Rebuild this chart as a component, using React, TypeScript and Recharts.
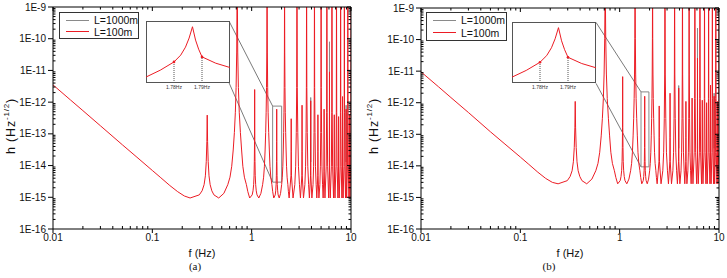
import React from 'react';
import { LineChart, Line, XAxis, YAxis, ReferenceArea, ReferenceLine, ReferenceDot } from 'recharts';

// frequency grid (Hz) shared by both panels
const freq = [
  // low-frequency slope
  0.01, 0.015, 0.02, 0.03, 0.05, 0.07, 0.1, 0.12, 0.15, 0.18, 0.21, 0.24,
  // n=1 / n=2
  0.297, 0.317, 0.332, 0.342, 0.349, 0.354, 0.357, 0.36, 0.365, 0.372, 0.382, 0.397, 0.417,
  0.466, 0.525, 0.575, 0.605, 0.63, 0.652, 0.67, 0.685, 0.697, 0.707, 0.715, 0.724, 0.735, 0.75, 0.77, 0.792, 0.815, 0.845, 0.885, 0.915, 0.955,
  // n=3 / n=4
  1.012, 1.032, 1.047, 1.057, 1.064, 1.069, 1.072, 1.075, 1.08, 1.087, 1.097, 1.112, 1.132,
  1.18, 1.239, 1.289, 1.319, 1.344, 1.366, 1.384, 1.399, 1.411, 1.421, 1.429, 1.438, 1.449, 1.464, 1.484, 1.506, 1.529, 1.559, 1.599, 1.629, 1.669,
  // n=5 / n=6
  1.727, 1.747, 1.762, 1.772, 1.779, 1.784, 1.787, 1.79, 1.795, 1.802, 1.812, 1.827, 1.847,
  1.895, 1.954, 2.004, 2.034, 2.059, 2.081, 2.099, 2.114, 2.126, 2.136, 2.144, 2.153, 2.164, 2.179, 2.199, 2.221, 2.244, 2.274, 2.314, 2.344, 2.384,
  // n=7..14
  2.486, 2.497, 2.501, 2.505, 2.516, 2.609, 2.718, 2.773, 2.813, 2.84, 2.858, 2.878, 2.913, 2.958, 3.028, 3.098,
  3.201, 3.212, 3.216, 3.22, 3.231, 3.324, 3.433, 3.488, 3.528, 3.555, 3.573, 3.593, 3.628, 3.673, 3.743, 3.813,
  3.915, 3.926, 3.93, 3.934, 3.945, 4.038, 4.148, 4.203, 4.243, 4.27, 4.288, 4.308, 4.343, 4.388, 4.458, 4.528,
  4.63, 4.641, 4.645, 4.649, 4.66, 4.753, 4.862, 4.917, 4.957, 4.984, 5.002, 5.022, 5.057, 5.102, 5.172, 5.242,
  // n=15..28
  5.35, 5.36, 5.37, 5.468, 5.632, 5.687, 5.717, 5.752, 5.817, 5.957,
  6.064, 6.074, 6.084, 6.182, 6.346, 6.401, 6.431, 6.466, 6.531, 6.671,
  6.779, 6.789, 6.799, 6.897, 7.061, 7.116, 7.146, 7.181, 7.246, 7.386,
  7.493, 7.503, 7.513, 7.611, 7.776, 7.831, 7.861, 7.896, 7.961, 8.101,
  8.208, 8.218, 8.228, 8.326, 8.49, 8.545, 8.575, 8.61, 8.675, 8.815,
  8.923, 8.933, 8.943, 9.041, 9.205, 9.26, 9.29, 9.325, 9.39, 9.53,
  9.637, 9.647, 9.657, 9.755, 9.919, 9.974, 10.004,
];

// panel (a), L=100m, h in Hz^-1/2
const h100a = [
  3.5e-12, 1.17e-12, 5.4e-13, 1.8e-13, 4.5e-14, 1.83e-14, 7.0e-15, 4.3e-15, 2.35e-15, 1.5e-15, 1.1e-15, 9.5e-16,
  1.19e-15, 1.6e-15, 2.5e-15, 4.75e-15, 1.33e-14, 5.7e-14, 3.9e-13, 5.7e-14, 1.33e-14, 4.75e-15, 2.5e-15, 1.6e-15, 1.19e-15,
  9.5e-16, 1.33e-15, 2.5e-15, 4.3e-15, 9.5e-15, 3.1e-14, 1.1e-13, 4.8e-13, 2.9e-12, 3.8e-11, 1e-8, 3.8e-11, 2.9e-12, 4.8e-13, 1.1e-13, 3.1e-14, 9.5e-15, 4.3e-15, 2.5e-15, 1.5e-15, 9.5e-16,
  1.19e-15, 1.6e-15, 2.5e-15, 4.75e-15, 1.33e-14, 5.7e-14, 2.5e-12, 5.7e-14, 1.33e-14, 4.75e-15, 2.5e-15, 1.6e-15, 1.19e-15,
  9.5e-16, 1.33e-15, 2.5e-15, 4.3e-15, 9.5e-15, 3.1e-14, 1.1e-13, 4.8e-13, 2.9e-12, 3.8e-11, 1e-8, 3.8e-11, 2.9e-12, 4.8e-13, 1.1e-13, 3.1e-14, 9.5e-15, 4.3e-15, 2.5e-15, 1.5e-15, 9.5e-16,
  1.19e-15, 1.6e-15, 2.5e-15, 4.75e-15, 1.33e-14, 5.7e-14, 6.0e-13, 5.7e-14, 1.33e-14, 4.75e-15, 2.5e-15, 1.6e-15, 1.19e-15,
  9.5e-16, 1.33e-15, 2.5e-15, 4.3e-15, 9.5e-15, 3.1e-14, 1.1e-13, 4.8e-13, 2.9e-12, 3.8e-11, 1e-8, 3.8e-11, 2.9e-12, 4.8e-13, 1.1e-13, 3.1e-14, 9.5e-15, 4.3e-15, 2.5e-15, 1.5e-15, 9.5e-16,
  4.75e-15, 2.85e-14, 3.0e-13, 2.85e-14, 4.75e-15, 9.5e-16, 2.5e-15, 9.5e-15, 1.1e-13, 2.9e-12, 1e-8, 2.9e-12, 1.1e-13, 9.5e-15, 2.5e-15, 9.5e-16,
  4.75e-15, 2.85e-14, 8.0e-13, 2.85e-14, 4.75e-15, 9.5e-16, 2.5e-15, 9.5e-15, 1.1e-13, 2.9e-12, 1e-8, 2.9e-12, 1.1e-13, 9.5e-15, 2.5e-15, 9.5e-16,
  4.75e-15, 2.85e-14, 1.1e-12, 2.85e-14, 4.75e-15, 9.5e-16, 2.5e-15, 9.5e-15, 1.1e-13, 2.9e-12, 1e-8, 2.9e-12, 1.1e-13, 9.5e-15, 2.5e-15, 9.5e-16,
  4.75e-15, 2.85e-14, 4.0e-13, 2.85e-14, 4.75e-15, 9.5e-16, 2.5e-15, 9.5e-15, 1.1e-13, 2.9e-12, 1e-8, 2.9e-12, 1.1e-13, 9.5e-15, 2.5e-15, 9.5e-16,
  6.7e-15, 6.0e-13, 6.7e-15, 9.5e-16, 9.5e-15, 4.8e-13, 1e-8, 4.8e-13, 9.5e-15, 9.5e-16,
  6.7e-15, 9.0e-12, 6.7e-15, 9.5e-16, 9.5e-15, 4.8e-13, 1e-8, 4.8e-13, 9.5e-15, 9.5e-16,
  6.7e-15, 4.0e-13, 6.7e-15, 9.5e-16, 9.5e-15, 4.8e-13, 1e-8, 4.8e-13, 9.5e-15, 9.5e-16,
  6.7e-15, 3.5e-13, 6.7e-15, 9.5e-16, 9.5e-15, 4.8e-13, 1e-8, 4.8e-13, 9.5e-15, 9.5e-16,
  6.7e-15, 1.5e-12, 6.7e-15, 9.5e-16, 9.5e-15, 4.8e-13, 1e-8, 4.8e-13, 9.5e-15, 9.5e-16,
  6.7e-15, 6.0e-13, 6.7e-15, 9.5e-16, 9.5e-15, 4.8e-13, 1e-8, 4.8e-13, 9.5e-15, 9.5e-16,
  6.7e-15, 4.0e-13, 6.7e-15, 9.5e-16, 9.5e-15, 4.8e-13, 1e-8,
];

// panel (b), L=100m
const h100b = [
  9.5e-12, 3.2e-12, 1.46e-12, 4.9e-13, 1.2e-13, 4.9e-14, 1.9e-14, 1.16e-14, 6.3e-15, 4.0e-15, 3.0e-15, 2.7e-15,
  3.4e-15, 4.6e-15, 7.0e-15, 1.35e-14, 3.8e-14, 1.6e-13, 1.1e-12, 1.6e-13, 3.8e-14, 1.35e-14, 7.0e-15, 4.6e-15, 3.4e-15,
  2.7e-15, 3.8e-15, 7.0e-15, 1.2e-14, 2.7e-14, 8.9e-14, 3.2e-13, 1.35e-12, 8.1e-12, 1.1e-10, 1e-8, 1.1e-10, 8.1e-12, 1.35e-12, 3.2e-13, 8.9e-14, 2.7e-14, 1.2e-14, 7.0e-15, 4.3e-15, 2.7e-15,
  3.4e-15, 4.6e-15, 7.0e-15, 1.35e-14, 3.8e-14, 1.6e-13, 6.7e-12, 1.6e-13, 3.8e-14, 1.35e-14, 7.0e-15, 4.6e-15, 3.4e-15,
  2.7e-15, 3.8e-15, 7.0e-15, 1.2e-14, 2.7e-14, 8.9e-14, 3.2e-13, 1.35e-12, 8.1e-12, 1.1e-10, 1e-8, 1.1e-10, 8.1e-12, 1.35e-12, 3.2e-13, 8.9e-14, 2.7e-14, 1.2e-14, 7.0e-15, 4.3e-15, 2.7e-15,
  3.4e-15, 4.6e-15, 7.0e-15, 1.35e-14, 3.8e-14, 1.6e-13, 1.6e-12, 1.6e-13, 3.8e-14, 1.35e-14, 7.0e-15, 4.6e-15, 3.4e-15,
  2.7e-15, 3.8e-15, 7.0e-15, 1.2e-14, 2.7e-14, 8.9e-14, 3.2e-13, 1.35e-12, 8.1e-12, 1.1e-10, 1e-8, 1.1e-10, 8.1e-12, 1.35e-12, 3.2e-13, 8.9e-14, 2.7e-14, 1.2e-14, 7.0e-15, 4.3e-15, 2.7e-15,
  1.35e-14, 8.1e-14, 7.9e-13, 8.1e-14, 1.35e-14, 2.7e-15, 7.0e-15, 2.7e-14, 3.2e-13, 8.1e-12, 1e-8, 8.1e-12, 3.2e-13, 2.7e-14, 7.0e-15, 2.7e-15,
  1.35e-14, 8.1e-14, 2.0e-12, 8.1e-14, 1.35e-14, 2.7e-15, 7.0e-15, 2.7e-14, 3.2e-13, 8.1e-12, 1e-8, 8.1e-12, 3.2e-13, 2.7e-14, 7.0e-15, 2.7e-15,
  1.35e-14, 8.1e-14, 2.9e-12, 8.1e-14, 1.35e-14, 2.7e-15, 7.0e-15, 2.7e-14, 3.2e-13, 8.1e-12, 1e-8, 8.1e-12, 3.2e-13, 2.7e-14, 7.0e-15, 2.7e-15,
  1.35e-14, 8.1e-14, 1.1e-12, 8.1e-14, 1.35e-14, 2.7e-15, 7.0e-15, 2.7e-14, 3.2e-13, 8.1e-12, 1e-8, 8.1e-12, 3.2e-13, 2.7e-14, 7.0e-15, 2.7e-15,
  1.9e-14, 1.4e-12, 1.9e-14, 2.7e-15, 2.7e-14, 1.35e-12, 1e-8, 1.35e-12, 2.7e-14, 2.7e-15,
  1.9e-14, 2.6e-11, 1.9e-14, 2.7e-15, 2.7e-14, 1.35e-12, 1e-8, 1.35e-12, 2.7e-14, 2.7e-15,
  1.9e-14, 1.2e-12, 1.9e-14, 2.7e-15, 2.7e-14, 1.35e-12, 1e-8, 1.35e-12, 2.7e-14, 2.7e-15,
  1.9e-14, 1.0e-12, 1.9e-14, 2.7e-15, 2.7e-14, 1.35e-12, 1e-8, 1.35e-12, 2.7e-14, 2.7e-15,
  1.9e-14, 3.6e-12, 1.9e-14, 2.7e-15, 2.7e-14, 1.35e-12, 1e-8, 1.35e-12, 2.7e-14, 2.7e-15,
  1.9e-14, 1.6e-12, 1.9e-14, 2.7e-15, 2.7e-14, 1.35e-12, 1e-8, 1.35e-12, 2.7e-14, 2.7e-15,
  1.9e-14, 1.1e-12, 1.9e-14, 2.7e-15, 2.7e-14, 1.35e-12, 1e-8,
];

// L=1000m only shows where it pokes above the L=100m curve
const grayFreq = [3.922, 3.93, 3.938, 3.94, 6.066, 6.074, 6.082, 6.09, 8.925, 8.933, 8.941];
const h1000a = [1.3e-14, 1.4e-12, 1.3e-14, null, 1.3e-14, 8e-11, 1.3e-14, null, 1.3e-14, 8e-13, 1.3e-14];
const h1000b = [3.6e-14, 3.5e-12, 3.6e-14, null, 3.6e-14, 2.3e-10, 3.6e-14, null, 3.6e-14, 2e-12, 3.6e-14];

// inset: zoom on the 1.787 Hz peak
const insetFreq = [1.77, 1.7751, 1.78, 1.7824, 1.7841, 1.7854, 1.7866, 1.7877, 1.7888, 1.79, 1.7949, 1.8];
const insetH = [5.1e-15, 9.4e-15, 1.96e-14, 3.6e-14, 7.3e-14, 1.64e-13, 4.5e-13, 1.37e-13, 6.1e-14, 3.07e-14, 1.75e-14, 1.19e-14];
const insetMarks = [1.78, 1.79];
const insetMarkH = [1.96e-14, 3.07e-14];

const X_TICKS = [0.01, 0.1, 1, 10];
const X_MINOR = [0.02, 0.03, 0.04, 0.05, 0.06, 0.07, 0.08, 0.09, 0.2, 0.3, 0.4, 0.5, 0.6, 0.7, 0.8, 0.9, 2, 3, 4, 5, 6, 7, 8, 9];
const Y_TICKS = [1e-16, 1e-15, 1e-14, 1e-13, 1e-12, 1e-11, 1e-10, 1e-9];
const Y_MINOR = Y_TICKS.slice(0, -1).flatMap((d) => [2, 3, 4, 5, 6, 7, 8, 9].map((k) => k * d));
const INSET_MINOR = [1.772, 1.774, 1.776, 1.778, 1.78, 1.782, 1.784, 1.786, 1.788, 1.79, 1.792, 1.794, 1.796, 1.798];

const FONT = '"Liberation Sans", Arial, sans-serif';
const RED = '#ec1c24';
const GRAY = '#8a8a8a';

const fmtY = (v: number) => '1E' + Math.round(Math.log10(v));
const tickStyle = { fontSize: 10, fill: '#111', fontFamily: FONT };

const insetRows = insetFreq.map((f, i) => ({ f, h: insetH[i] }));

// tick renderers: major ticks point out, minor ones point in
function BottomTick({ x, y, payload }: any) {
  const ay = y - 5;
  const v = payload.value;
  if (X_TICKS.includes(v)) {
    return (
      <g>
        <line x1={x} x2={x} y1={ay} y2={ay + 4} stroke="#000" />
        <text x={x} y={y} dy="0.71em" textAnchor="middle" {...tickStyle}>{String(v)}</text>
      </g>
    );
  }
  return <line x1={x} x2={x} y1={ay} y2={ay - 3} stroke="#000" />;
}

function LeftTick({ x, y, payload }: any) {
  const ax = x + 7;
  const v = payload.value;
  if (Y_TICKS.includes(v)) {
    return (
      <g>
        <line x1={ax - 5} x2={ax} y1={y} y2={y} stroke="#000" />
        <text x={x} y={y} dy="0.355em" textAnchor="end" {...tickStyle}>{fmtY(v)}</text>
      </g>
    );
  }
  return <line x1={ax} x2={ax + 2.5} y1={y} y2={y} stroke="#000" />;
}

function TopTick({ x, y, payload }: any) {
  const len = X_TICKS.includes(payload.value) ? 4 : 2.5;
  return <line x1={x} x2={x} y1={y} y2={y + len} stroke="#000" />;
}

function RightTick({ x, y, payload }: any) {
  const len = Y_TICKS.includes(payload.value) ? 4 : 2.5;
  return <line x1={x} x2={x - len} y1={y} y2={y} stroke="#000" />;
}

type PanelCfg = {
  x: number;
  width: number;
  axisW: number;
  top: number;
  right: number;
  red: number[];
  gray: (number | null)[];
  box: [number, number, number, number];
  links: { x: number; y: number }[][];
  legend: { left: number; top: number; w: number; h: number };
  inset: { left: number; top: number; w: number; h: number };
  ylabX: number;
  cap: string;
  capX: number;
};

const panels: PanelCfg[] = [
  {
    x: 0, width: 360, axisW: 53, top: 7, right: 9,
    red: h100a, gray: h1000a,
    box: [1.626, 2.004, 3e-15, 7.5e-13],
    links: [
      [{ x: 0.5915, y: 3.6e-10 }, { x: 1.626, y: 7.5e-13 }],
      [{ x: 0.5915, y: 4.1e-12 }, { x: 1.626, y: 3e-15 }],
    ],
    legend: { left: 59, top: 12, w: 80, h: 27 },
    inset: { left: 146, top: 21, w: 84, h: 62 },
    ylabX: 10, cap: '(a)', capX: 195,
  },
  {
    x: 360, width: 367, axisW: 61, top: 8, right: 8,
    red: h100b, gray: h1000b,
    box: [1.64, 1.97, 9.3e-15, 2.2e-12],
    links: [
      [{ x: 0.578, y: 3.5e-10 }, { x: 1.64, y: 2.2e-12 }],
      [{ x: 0.578, y: 4.1e-12 }, { x: 1.64, y: 9.3e-15 }],
    ],
    legend: { left: 426, top: 12, w: 81, h: 29 },
    inset: { left: 512, top: 22, w: 84, h: 61 },
    ylabX: 373, cap: '(b)', capX: 549,
  },
];

function Panel({ p }: { p: PanelCfg }) {
  const rows = freq.map((f, i) => ({ f, h: p.red[i] }));
  const grayRows = grayFreq.map((f, i) => ({ f, h: p.gray[i] }));
  const logX = { type: 'number' as const, scale: 'log' as const, domain: [0.01, 10], allowDataOverflow: true, dataKey: 'f' };
  const logY = { type: 'number' as const, scale: 'log' as const, domain: [1e-16, 1e-9], allowDataOverflow: true };
  return (
    <>
      <div style={{ position: 'absolute', left: p.x, top: 0 }}>
        <LineChart width={p.width} height={270} data={rows} margin={{ top: p.top, right: p.right, bottom: 0, left: 0 }}>
          <XAxis
            {...logX}
            ticks={[...X_TICKS, ...X_MINOR]}
            interval={0}
            tickSize={4}
            tickMargin={1}
            tickLine={false}
            height={41}
            stroke="#000"
            tick={<BottomTick />}
            label={{ value: 'f (Hz)', position: 'insideBottom', offset: 13, fontSize: 11, fill: '#111', fontFamily: FONT }}
          />
          <XAxis {...logX} xAxisId="tp" orientation="top" mirror ticks={[...X_TICKS, ...X_MINOR]} interval={0} tickSize={0} tickMargin={0} tickLine={false} tick={<TopTick />} stroke="#000" height={10} />
          <YAxis
            {...logY}
            ticks={[...Y_TICKS, ...Y_MINOR]}
            interval={0}
            width={p.axisW}
            tickSize={5}
            tickMargin={2}
            tickLine={false}
            stroke="#000"
            tick={<LeftTick />}
          />
          <YAxis {...logY} yAxisId="rt" orientation="right" mirror ticks={[...Y_TICKS, ...Y_MINOR]} interval={0} tickSize={0} tickMargin={0} tickLine={false} tick={<RightTick />} stroke="#000" width={10} />
          {p.links.map((seg, i) => (
            <ReferenceLine key={i} segment={seg} stroke="#7a7a7a" strokeWidth={1} />
          ))}
          <ReferenceArea x1={p.box[0]} x2={p.box[1]} y1={p.box[2]} y2={p.box[3]} fill="none" stroke="#888" strokeWidth={1} />
          <Line data={grayRows} dataKey="h" stroke={GRAY} strokeWidth={1} dot={false} isAnimationActive={false} />
          <Line dataKey="h" stroke={RED} strokeWidth={1} dot={false} connectNulls isAnimationActive={false} />
        </LineChart>
      </div>

      {/* inset */}
      <div
        style={{
          position: 'absolute', left: p.inset.left, top: p.inset.top, width: p.inset.w, height: p.inset.h,
          border: '1px solid #555', boxSizing: 'border-box', background: '#fff',
        }}
      />
      <div style={{ position: 'absolute', left: p.inset.left, top: p.inset.top }}>
        <LineChart width={p.inset.w} height={p.inset.h + 14} data={insetRows} margin={{ top: 0, right: 0, bottom: 0, left: 0 }}>
          <XAxis
            dataKey="f" type="number" domain={[1.77, 1.8]} allowDataOverflow
            ticks={insetMarks} interval={0}
            tickFormatter={(v) => v.toFixed(2) + 'Hz'}
            tickLine={false} axisLine={false} tickSize={0} tickMargin={2} height={14}
            tick={{ fontSize: 5, fill: '#333', fontFamily: FONT }}
          />
          <XAxis dataKey="f" xAxisId="im" type="number" domain={[1.77, 1.8]} allowDataOverflow mirror ticks={INSET_MINOR} interval={0} tick={false} tickSize={1.5} axisLine={false} stroke="#666" height={4} />
          <YAxis hide type="number" scale="log" domain={[3e-15, 7.5e-13]} allowDataOverflow />
          {insetMarks.map((m, i) => (
            <ReferenceLine key={m} segment={[{ x: m, y: 3e-15 }, { x: m, y: insetMarkH[i] }]} stroke="#555" strokeDasharray="1 1" />
          ))}
          <Line dataKey="h" stroke={RED} strokeWidth={1} dot={false} isAnimationActive={false} />
          {insetMarks.map((m, i) => (
            <ReferenceDot key={'d' + m} x={m} y={insetMarkH[i]} r={1.3} fill={RED} stroke="none" />
          ))}
        </LineChart>
      </div>

      {/* legend */}
      <div
        style={{
          position: 'absolute', left: p.legend.left, top: p.legend.top, width: p.legend.w, height: p.legend.h,
          border: '1px solid #333', boxSizing: 'border-box', background: '#fff', fontFamily: FONT, fontSize: 10.5, color: '#111',
        }}
      >
        {[{ c: GRAY, t: 'L=1000m' }, { c: RED, t: 'L=100m' }].map((e, i) => (
          <div key={e.t} style={{ position: 'absolute', left: 6, top: i === 0 ? 1 : p.legend.h / 2 - 1, height: 12, display: 'flex', alignItems: 'center' }}>
            <div style={{ width: 23, height: 1, background: e.c, marginRight: 5 }} />
            <span>{e.t}</span>
          </div>
        ))}
      </div>

      {/* y axis title */}
      <div
        style={{
          position: 'absolute', left: p.ylabX, top: 126, transform: 'translate(-50%, -50%) rotate(-90deg)',
          whiteSpace: 'nowrap', fontFamily: FONT, fontSize: 12.5, color: '#111', letterSpacing: 0.8,
        }}
      >
        h{'\u00a0'}(Hz<sup style={{ fontSize: 8 }}>-1/2</sup>)
      </div>

      {/* caption */}
      <div
        style={{
          position: 'absolute', left: p.capX, top: 266, transform: 'translate(-50%, -50%)',
          fontFamily: '"Liberation Serif", "Times New Roman", serif', fontSize: 11, lineHeight: '12px', color: '#111',
        }}
      >
        {p.cap}
      </div>
    </>
  );
}

export default function App() {
  return (
    <div style={{ position: 'absolute', left: 0, top: 0, width: 727, height: 278, background: '#fff', overflow: 'hidden' }}>
      {panels.map((p) => (
        <Panel key={p.cap} p={p} />
      ))}
    </div>
  );
}
